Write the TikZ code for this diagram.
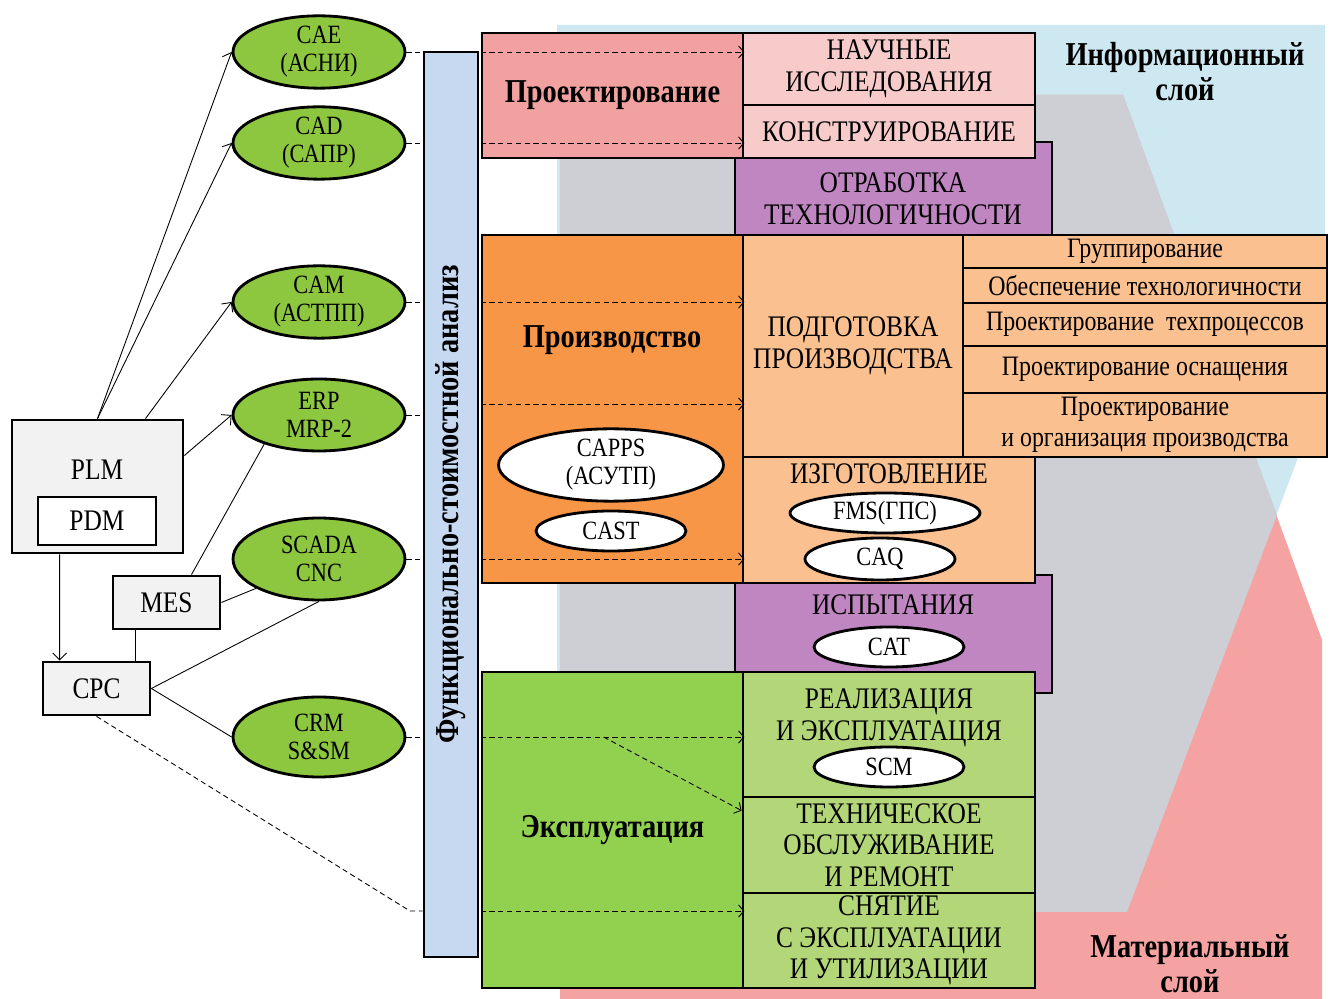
\documentclass[tikz,border=0pt]{standalone}
\usepackage{fontspec}
\setmainfont{Liberation Serif}[FakeStretch=0.85]
\usetikzlibrary{calc,positioning,shapes.geometric,arrows.meta}

\definecolor{infoblue}{RGB}{205,232,240}
\definecolor{layergray}{RGB}{206,206,213}
\definecolor{matpink}{RGB}{244,162,162}
\definecolor{barblue}{RGB}{198,217,241}
\definecolor{projred}{RGB}{242,161,161}
\definecolor{projpink}{RGB}{248,203,203}
\definecolor{techviolet}{RGB}{192,134,194}
\definecolor{prodorange}{RGB}{247,150,70}
\definecolor{prodlight}{RGB}{250,192,144}
\definecolor{explgreen}{RGB}{146,208,80}
\definecolor{expllight}{RGB}{178,214,120}
\definecolor{ovalgreen}{RGB}{141,198,63}
\definecolor{sysgray}{RGB}{242,242,242}

\tikzset{
  box/.style={draw, line width=1.6pt, inner sep=0pt, align=center,
    font=\fontsize{17}{18}\selectfont},
  item/.style={box, fill=prodlight, minimum width=7.28cm,
    font=\fontsize{16}{17.6}\selectfont},
  sysbox/.style={box, fill=sysgray, minimum width=2.14cm, minimum height=1.06cm},
  oval/.style={ellipse, draw, line width=1.6pt, fill=ovalgreen, inner sep=0pt,
    minimum width=3.44cm, minimum height=1.44cm, align=center,
    font=\fontsize{15}{16}\selectfont},
  woval/.style={ellipse, draw, line width=1.6pt, fill=white, inner sep=0pt,
    minimum width=3cm, minimum height=0.8cm, align=center,
    font=\fontsize{15}{16}\selectfont},
  txt/.style={align=center, font=\fontsize{17}{18}\selectfont},
  title/.style={align=center, font=\bfseries\fontsize{19}{20}\selectfont},
  dline/.style={dash pattern=on 3pt off 2pt, line width=0.5pt},
  darrow/.style={dline, -{Straight Barb[length=3pt,width=7pt]}},
  link/.style={line width=0.5pt},
  larrow/.style={link, -{Straight Barb[length=4pt,width=8pt]}}
}

\begin{document}
\begin{tikzpicture}[x=0.02cm, y=-0.02cm]
\useasboundingbox (0,0) rectangle (1330,999);

%====================================================
% СЛОИ
%====================================================
\fill[infoblue] (557,25) -- (1325,25) -- (1325,386) -- (1127,912) -- (557,912) -- cycle;
\fill[matpink] (560,95) -- (1123,95) -- (1322,640) -- (1322,999) -- (560,999) -- cycle;
\fill[layergray] (560,95) -- (1123,95) -- (1277,515) -- (1127,912) -- (560,912) -- cycle;
\node[title] (info) at (1185,72) {Информационный\\слой};
\node[title] (mater) at (1190,964) {Материальный\\слой};

%====================================================
% ЭТАПЫ
%====================================================
\node[box, fill=techviolet, minimum width=6.34cm, minimum height=1.86cm] (otrab) at (893.5,188.5) {};
\node[box, fill=techviolet, minimum width=6.34cm, minimum height=2.36cm] (ispyt) at (893.5,634) {};

\node[box, title, fill=projred, minimum width=5.22cm, minimum height=2.5cm] (proj) at (612.5,95.5) {Проектирование};
\node[box, fill=projpink, minimum width=5.84cm, minimum height=1.44cm] (nauch) at (889,69) {НАУЧНЫЕ\\ИССЛЕДОВАНИЯ};
\node[box, fill=projpink, minimum width=5.84cm, minimum height=1.06cm] (konstr) at (889,131.5) {КОНСТРУИРОВАНИЕ};
\node[txt] (otrabt) at (893,199) {ОТРАБОТКА\\ТЕХНОЛОГИЧНОСТИ};

\node[box, fill=prodorange, minimum width=5.22cm, minimum height=6.96cm] (proizv) at (612.5,409) {};
\node[title] (proizvt) at (612,340) {Производство};
\node[box, fill=prodlight, minimum width=4.4cm, minimum height=4.44cm] (podg) at (853,346) {ПОДГОТОВКА\\ПРОИЗВОДСТВА};
\node[item, minimum height=0.66cm] (grupp) at (1145,251.5) {Группирование};
\node[item, minimum height=0.7cm] (obesp) at (1145,285.5) {Обеспечение технологичности};
\node[item, minimum height=0.86cm] (tproc) at (1145,324.5) {Проектирование~~техпроцессов};
\node[item, minimum height=0.94cm] (osnas) at (1145,369.5) {Проектирование оснащения};
\node[item, minimum height=1.28cm] (orgpr) at (1145,425) {Проектирование\\и организация производства};
\node[box, fill=prodlight, minimum width=5.84cm, minimum height=2.52cm] (izg) at (889,520) {};
\node[txt] (izgt) at (889,474) {ИЗГОТОВЛЕНИЕ};
\node[txt] (ispytt) at (893,605) {ИСПЫТАНИЯ};

\node[box, title, fill=explgreen, minimum width=5.22cm, minimum height=6.32cm] (expl) at (612.5,830) {Эксплуатация};
\node[box, fill=expllight, minimum width=5.84cm, minimum height=2.5cm] (real) at (889,734.5) {};
\node[txt] (realt) at (889,718) {РЕАЛИЗАЦИЯ\\И ЭКСПЛУАТАЦИЯ};
\node[box, fill=expllight, minimum width=5.84cm, minimum height=1.92cm] (tehob) at (889,845) {ТЕХНИЧЕСКОЕ\\ОБСЛУЖИВАНИЕ\\И РЕМОНТ};
\node[box, fill=expllight, minimum width=5.84cm, minimum height=1.9cm] (snyat) at (889,940.5) {СНЯТИЕ\\С ЭКСПЛУАТАЦИИ\\И УТИЛИЗАЦИИ};

\node[woval, minimum width=4.5cm, minimum height=1.24cm] (capps) at (611,465) {CAPPS\\(АСУТП)};
\node[woval] (cast) at (611,531) {CAST};
\node[woval, minimum width=3.8cm] (fms) at (885,513) {FMS(ГПС)};
\node[woval, minimum height=0.84cm] (caq) at (880,559) {CAQ};
\node[woval] (cat) at (889,647) {CAT};
\node[woval] (scm) at (889,767) {SCM};

%====================================================
% ФСА И СИСТЕМЫ
%====================================================
\node[box, fill=barblue, minimum width=1.08cm, minimum height=18.1cm] (fsa) at (451,504.5) {};
\node[title, rotate=90] (fsat) at (fsa) {Функционально-стоимостной анализ};

\node[oval] (cae) at (319,52) {CAE\\(АСНИ)};
\node[oval] (cad) at (319,143) {CAD\\(САПР)};
\node[oval] (cam) at (319,302) {CAM\\(АСТПП)};
\node[oval] (erp) at (319,415) {ERP\\MRP-2};
\node[oval, minimum height=1.64cm] (scada) at (319,559) {SCADA\\CNC};
\node[oval, minimum height=1.6cm] (crm) at (319,737) {CRM\\S\&SM};

\node[box, fill=sysgray, minimum width=3.42cm, minimum height=2.66cm] (plm) at (97.5,486.5) {};
\node[txt] (plmt) at (97,470) {PLM};
\node[box, fill=white, minimum width=2.36cm, minimum height=0.96cm] (pdm) at (97,521) {PDM};
\node[sysbox] (mes) at (166.5,602.5) {MES};
\node[sysbox] (cpc) at (96.5,688.5) {CPC};

% связи систем
\draw[larrow] (plm.north) -- (cae.west);
\draw[larrow] (plm.north) -- (cad.west);
\draw[larrow] ($(plm.north)+(48,0)$) -- (cam.west);
\draw[larrow] ($(plm.east)+(0,-31)$) -- (erp.west);
\draw[link] ($(mes.north)+(25,0)$) -- (erp.208);
\draw[link] (mes.east) -- (scada.205);
\draw[link] ($(mes.south west)+(24,0)$) -- ($(cpc.north west)+(94,0)$);
\draw[larrow] ($(plm.south west)+(49,0)$) -- ($(cpc.north west)+(18,0)$);
\draw[link] (cpc.east) -- (scada.south);
\draw[link] (cpc.east) -- (crm.west);
\coordinate (bend) at (410,911);
\draw[dline] (cpc.south) -- (bend) -- (bend -| fsa.west);

% пунктир к этапам
\foreach \o in {cae,cad,cam,erp,scada,crm}
  \draw[dline] (\o.east) -- (\o.east -| fsa.west);
\coordinate (erpin) at ($(erp)+(0,-11)$);
\draw[darrow] (proj.west |- cae) -- (proj.east |- cae);
\draw[darrow] (proj.west |- cad) -- (proj.east |- cad);
\draw[darrow] (proizv.west |- cam) -- (proizv.east |- cam);
\draw[darrow] (proizv.west |- erpin) -- (proizv.east |- erpin);
\draw[darrow] (proizv.west |- scada) -- (proizv.east |- scada);
\draw[darrow] (expl.west |- crm) -- (expl.east |- crm);
\draw[darrow] ($(expl.west |- crm)+(123,0)$) -- ($(tehob.north west)+(0,15)$);
\draw[darrow] (expl.west |- bend) -- (expl.east |- bend);
\end{tikzpicture}
\end{document}
